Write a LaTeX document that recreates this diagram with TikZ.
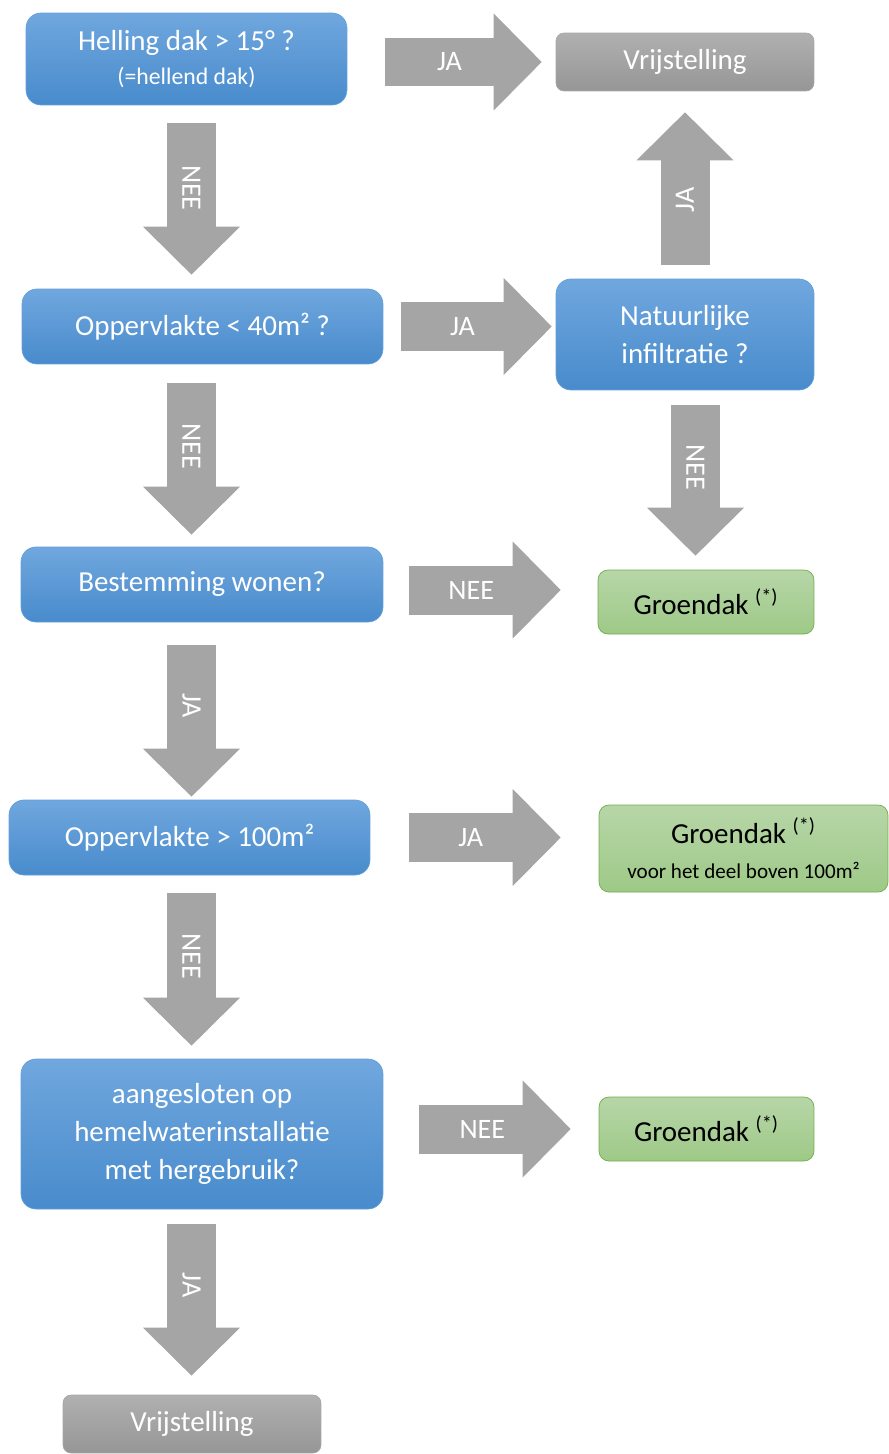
\documentclass[tikz,border=0pt]{standalone}
\usepackage{fontspec}
\setmainfont{Carlito}
\usetikzlibrary{arrows.meta}
\definecolor{blueTop}{RGB}{112,167,222}
\definecolor{blueBot}{RGB}{72,139,204}
\definecolor{blueLine}{RGB}{98,160,218}
\definecolor{grayTop}{RGB}{176,176,176}
\definecolor{grayBot}{RGB}{150,150,150}
\definecolor{grayLine}{RGB}{168,168,168}
\definecolor{greenTop}{RGB}{183,214,168}
\definecolor{greenBot}{RGB}{158,201,135}
\definecolor{greenLine}{RGB}{112,173,71}
\definecolor{arrowGray}{RGB}{165,165,165}
\begin{document}
\begin{tikzpicture}[x=0.02cm, y=-0.02cm, font=\fontsize{16.5}{21.5}\selectfont,
		question/.style={rectangle, rounded corners=0.3cm, draw=blueLine, top color=blueTop, bottom color=blueBot, text=white, align=center},
		exempt/.style={rectangle, rounded corners=0.16cm, draw=grayLine, top color=grayTop, bottom color=grayBot, text=white, minimum width=5.16cm, minimum height=1.16cm},
		greenroof/.style={rectangle, rounded corners=0.2cm, draw=greenLine, top color=greenTop, bottom color=greenBot, text=black, align=center},
		fat/.style={draw=arrowGray, line width=0.98cm, -{Triangle[width=1.94cm, length=0.96cm, line width=0pt]}},
		lbl/.style={text=white, font=\fontsize{16}{19}\selectfont}]
		\useasboundingbox (0,0) rectangle (889,1454);
		% questions, left column
		\node[question, minimum width=6.42cm, minimum height=1.84cm] (h) at (186.5,59) {Helling dak > 15° ?\\[-1.7pt]{\fontsize{13.5}{16}\selectfont (=hellend dak)}};
		\node[question, minimum width=7.22cm, minimum height=1.5cm] (o1) at (202.5,326.5) {Oppervlakte < 40m² ?};
		\node[question, minimum width=7.24cm, minimum height=1.5cm] (bw) at (202,584.5) {Bestemming wonen?};
		\node[question, minimum width=7.22cm, minimum height=1.5cm] (o2) at (189.5,837.5) {Oppervlakte > 100m²};
		\node[question, minimum width=7.24cm, minimum height=3cm] (aw) at (202,1134) {aangesloten op\\hemelwaterinstallatie\\met hergebruik?};
		\node[exempt] (v2) at (192,1424) {Vrijstelling};
		% right column
		\node[exempt] (v1) at (685,62) {Vrijstelling};
		\node[question, minimum width=5.16cm, minimum height=2.22cm] (ni) at (685,334.5) {Natuurlijke\\infiltratie ?};
		\node[greenroof, minimum width=4.32cm, minimum height=1.28cm] (g1) at (706,602) {Groendak \textsuperscript{(*)}};
		\node[greenroof, minimum width=5.78cm, minimum height=1.74cm] (g2) at (743.5,848.5) {Groendak \textsuperscript{(*)}\\[-1.7pt]{\fontsize{12}{14}\selectfont voor het deel boven 100m²}};
		\node[greenroof, minimum width=4.3cm, minimum height=1.28cm] (g3) at (706.5,1129) {Groendak \textsuperscript{(*)}};

		\coordinate (colL) at (191.5,0);
		\coordinate (colR) at (695.5,0);
		\coordinate (rowA) at (0,590);

		% block arrows
		\draw[fat, shorten <=0.76cm, shorten >=0.28cm] (h.east |- v1.west) -- (v1.west) node[lbl, pos=0.49] {JA};
		\draw[fat, shorten <=0.28cm, shorten >=0.42cm] (ni.north) -- (v1.south) node[lbl, rotate=90, pos=0.42] {JA};
		\draw[fat, shorten <=0.36cm, shorten >=0.28cm] (h.south -| colL) -- (o1.north -| colL) node[lbl, rotate=-90, pos=0.45] {NEE};
		\draw[fat, shorten <=0.36cm, shorten >=0.08cm] (o1.east) -- (o1.east -| ni.west) node[lbl, pos=0.46] {JA};
		\draw[fat, shorten <=0.38cm, shorten >=0.24cm] (o1.south -| colL) -- (bw.north -| colL) node[lbl, rotate=-90, pos=0.45] {NEE};
		\draw[fat, shorten <=0.3cm, shorten >=0.28cm] (ni.south -| colR) -- (g1.north -| colR) node[lbl, rotate=-90, pos=0.43] {NEE};
		\draw[fat, shorten <=0.52cm, shorten >=0.74cm] (bw.east |- rowA) -- (g1.west |- rowA) node[lbl, pos=0.41] {NEE};
		\draw[fat, shorten <=0.46cm, shorten >=0.06cm] (bw.south -| colL) -- (o2.north -| colL) node[lbl, rotate=-90, pos=0.47] {JA};
		\draw[fat, shorten <=0.78cm, shorten >=0.76cm] (o2.east) -- (o2.east -| g2.west) node[lbl, pos=0.44] {JA};
		\draw[fat, shorten <=0.36cm, shorten >=0.26cm] (o2.south -| colL) -- (aw.north -| colL) node[lbl, rotate=-90, pos=0.44] {NEE};
		\draw[fat, shorten <=0.72cm, shorten >=0.56cm] (aw.east |- g3.west) -- (g3.west) node[lbl, pos=0.46] {NEE};
		\draw[fat, shorten <=0.3cm, shorten >=0.38cm] (aw.south -| colL) -- (v2.north -| colL) node[lbl, rotate=-90, pos=0.41] {JA};
	\end{tikzpicture}
\end{document}
